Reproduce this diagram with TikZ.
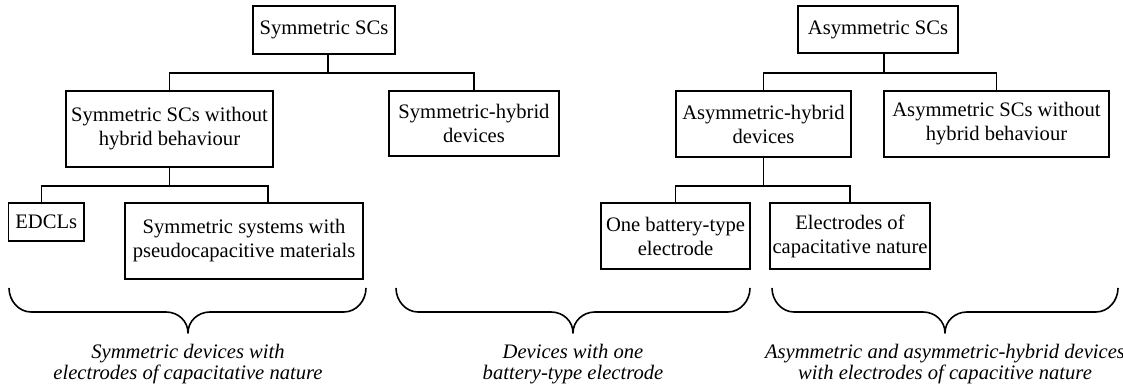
\documentclass[tikz,border=0pt]{standalone}
\usepackage{fontspec}
\setmainfont{Liberation Serif}
\usepackage{tikz}
\usetikzlibrary{positioning}

\begin{document}
\begin{tikzpicture}[x=0.5pt, y=-0.5pt, font=\fontsize{10.3}{12}\selectfont]
\tikzstyle{box} = [rectangle, draw=black, line width=0.8pt, align=center, inner sep=0pt]
\tikzstyle{edge} = [line width=0.8pt]
\tikzstyle{brace} = [line width=0.8pt, line join=round]
\tikzstyle{note} = [align=center, font=\fontsize{10.3}{10.8}\selectfont\itshape]

\useasboundingbox (0,0) rectangle (1123,389);

% Симметричные
\node[box, minimum width=71pt, minimum height=24pt] (sym) at (324,30) {Symmetric SCs};
\node[box, minimum width=103.5pt, minimum height=38pt] (symno) at (169.5,129) {Symmetric SCs without\\hybrid behaviour};
\node[box, minimum width=85pt, minimum height=32.5pt] (symhyb) at (474,123.5) {Symmetric-hybrid\\devices};
\node[box, minimum width=37.7pt, minimum height=19pt] (edcl) at (46.3,222) {EDCLs};
\node[box, minimum width=119pt, minimum height=38pt] (sympseudo) at (244,241) {Symmetric systems with\\pseudocapacitive materials};

% Асимметричные
\node[box, minimum width=80pt, minimum height=23.5pt] (asym) at (878,29.5) {Asymmetric SCs};
\node[box, minimum width=87.5pt, minimum height=33pt] (asymhyb) at (763.5,124) {Asymmetric-hybrid\\devices};
\node[box, minimum width=112.5pt, minimum height=33pt] (asymno) at (996.5,124) {Asymmetric SCs without\\hybrid behaviour};
\node[box, minimum width=74.5pt, minimum height=33pt] (onebat) at (675.5,236) {One battery-type\\electrode};
\node[box, minimum width=80pt, minimum height=33pt] (electr) at (850,236) {Electrodes of\\capacitative nature};

% Соединительные линии
\draw[edge] ([xshift=2pt]sym.south) -- ++(0,18) -| (symno.north);
\draw[edge] ([xshift=2pt]sym.south) -- ++(0,18) -| (symhyb.north);
\draw[edge] (symno.south) -- ++(0,18) -| ([xshift=-2.5pt]edcl.north);
\draw[edge] (symno.south) -- ++(0,18) -| ([xshift=12pt]sympseudo.north);
\draw[edge] ([xshift=3pt]asym.south) -- ++(0,19) -| (asymhyb.north);
\draw[edge] ([xshift=3pt]asym.south) -- ++(0,19) -| (asymno.north);
\draw[edge] (asymhyb.south) -- ++(0,28) -| (onebat.north);
\draw[edge] (asymhyb.south) -- ++(0,28) -| (electr.north);

% Фигурные скобки
\foreach \l/\t/\r in {9/188/366, 396/573/750, 772/945/1118}
  \draw[brace] (\l,288) .. controls (\l,301) and (\l+10,312) .. (\l+22,312) -- (\t-22,312)
    .. controls (\t-10,312) and (\t,321) .. (\t,333)
    .. controls (\t,321) and (\t+10,312) .. (\t+22,312) -- (\r-22,312)
    .. controls (\r-10,312) and (\r,301) .. (\r,288);

% Подписи
\node[note] (capsym) at (188,364) {Symmetric devices with\\electrodes of capacitative nature};
\node[note] (capbat) at (573,364) {Devices with one\\battery-type electrode};
\node[note] (capasym) at (945,364) {Asymmetric and asymmetric-hybrid devices\\with electrodes of capacitive nature};

\end{tikzpicture}
\end{document}
